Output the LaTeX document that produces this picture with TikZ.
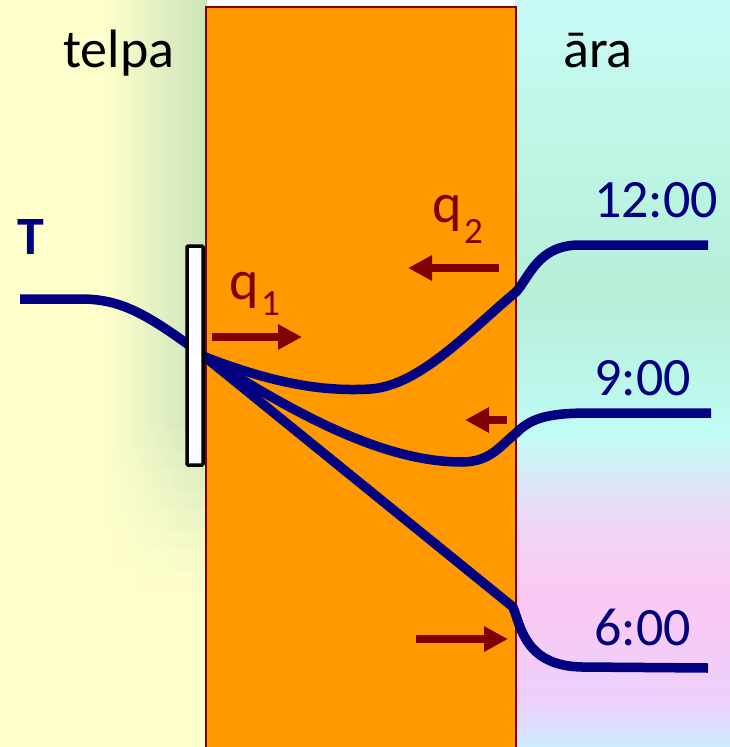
\documentclass[tikz,border=0pt]{standalone}
\usepackage{fontspec}
\setmainfont{Carlito}
\usetikzlibrary{arrows.meta}
\definecolor{navy}{HTML}{000080}
\definecolor{dred}{HTML}{800000}
\definecolor{wallor}{HTML}{FF9900}
\definecolor{lyellow}{HTML}{FFFFCC}
\definecolor{lgreen}{HTML}{CCE4BA}
\definecolor{rbA}{HTML}{CCECFF}
\definecolor{rbB}{HTML}{ECD0FC}
\definecolor{rbC}{HTML}{FCC8F4}
\definecolor{rbD}{HTML}{F0D6F6}
\definecolor{rbE}{HTML}{C0FCF6}
\definecolor{rbF}{HTML}{B6EED8}
\definecolor{rbG}{HTML}{BEF6E6}
\definecolor{rbH}{HTML}{C8FAF6}
\pgfdeclareverticalshading{rightbg}{100bp}{color(0bp)=(rbA); color(25bp)=(rbA); color(28bp)=(rbB); color(35bp)=(rbC); color(40bp)=(rbD); color(46bp)=(rbE); color(55bp)=(rbF); color(65bp)=(rbG); color(75bp)=(rbH); color(100bp)=(rbH)}
\tikzset{
  temp/.style={draw=navy, line width=9.5pt, line cap=butt, line join=round},
  flux/.style={draw=dred, line width=8pt, -{Triangle[length=24pt,width=24pt]}},
  lbl/.style={font=\fontsize{54}{60}\selectfont, inner sep=0pt, anchor=base west},
  qlbl/.style={font=\fontsize{56}{60}\selectfont, inner sep=0pt, anchor=base west, text=dred},
  sub/.style={font=\fontsize{37}{40}\selectfont, inner sep=0pt, anchor=base west, text=dred},
}
\begin{document}
\begin{tikzpicture}[x=1pt,y=-1pt]
\useasboundingbox (0,0) rectangle (730,747);
\begin{scope}
\clip (0,0) rectangle (730,747);
% backgrounds
\fill[lyellow] (0,0) rectangle (207,747);
\shade[left color=lyellow, right color=lgreen] (100,0) rectangle (207,431);
\foreach \k [count=\i] in {88,76,64,52,40,28,16,6}
  \shade[left color=lyellow, right color=lgreen!\k!lyellow]
    (100,{430+(\i-1)*20}) rectangle (207,{431+\i*20});
\shade[shading=rightbg] (515,0) rectangle (730,747);
% wall
\fill[wallor] (206,7) rectangle (516,747);
\draw[dred, line width=1.5pt] (206,747) -- (206,7) -- (516,7) -- (516,747);
\end{scope}
% coordinates
\coordinate (hub) at (205,357);
\coordinate (lstart) at (20,299);
\coordinate (w12) at (516,292);
\coordinate (e12) at (708,245);
\coordinate (w9) at (515,434);
\coordinate (e9) at (711,413);
\coordinate (w6) at (513,607);
\coordinate (e6) at (708,668);
% temperature profiles
\draw[temp] (lstart) -- (80,299) .. controls (120,299) and (145,312) .. (hub);
\draw[temp] (hub) .. controls (270,382) and (320,392) .. (370,389)
  .. controls (420,386) and (470,330) .. (w12)
  .. controls (530,276) and (538,246) .. (578,245) -- (e12);
\draw[temp] (hub) .. controls (290,410) and (380,462) .. (462,462)
  .. controls (490,462) and (500,446) .. (w9)
  .. controls (530,419) and (545,413) .. (590,413) -- (e9);
\draw[temp] (hub) -- (w6) .. controls (521,628) and (526,666) .. (582,667) -- (e6);
% glass
\draw[black, fill=white, line width=3.5pt, rounded corners=1pt] (187,246) rectangle (203,465);
% heat flux arrows
\coordinate (a1s) at (212,337); \coordinate (a1e) at (302,337);
\coordinate (a2s) at (499,268); \coordinate (a2e) at (408,268);
\coordinate (a3s) at (507,420); \coordinate (a3e) at (465,420);
\coordinate (a4s) at (416,639); \coordinate (a4e) at (508,639);
\draw[flux] (a1s) -- (a1e);
\draw[flux] (a2s) -- (a2e);
\draw[flux] (a3s) -- (a3e);
\draw[flux] (a4s) -- (a4e);
% labels
\node[lbl] (telpa) at (63,67) {telpa};
\node[lbl] (ara) at (563,67) {āra};
\node[lbl, text=navy, font=\fontsize{54}{60}\selectfont\bfseries] (T) at (17,254) {T};
\node[qlbl] (q1) at (229,299) {q};
\node[sub] (q1s) at (261,315) {1};
\node[qlbl] (q2) at (432,222) {q};
\node[sub] (q2s) at (464,243) {2};
\node[lbl, text=navy] (t12) at (594,217) {12:00};
\node[lbl, text=navy] (t9) at (594,395) {9:00};
\node[lbl, text=navy] (t6) at (594,645) {6:00};
\end{tikzpicture}
\end{document}
